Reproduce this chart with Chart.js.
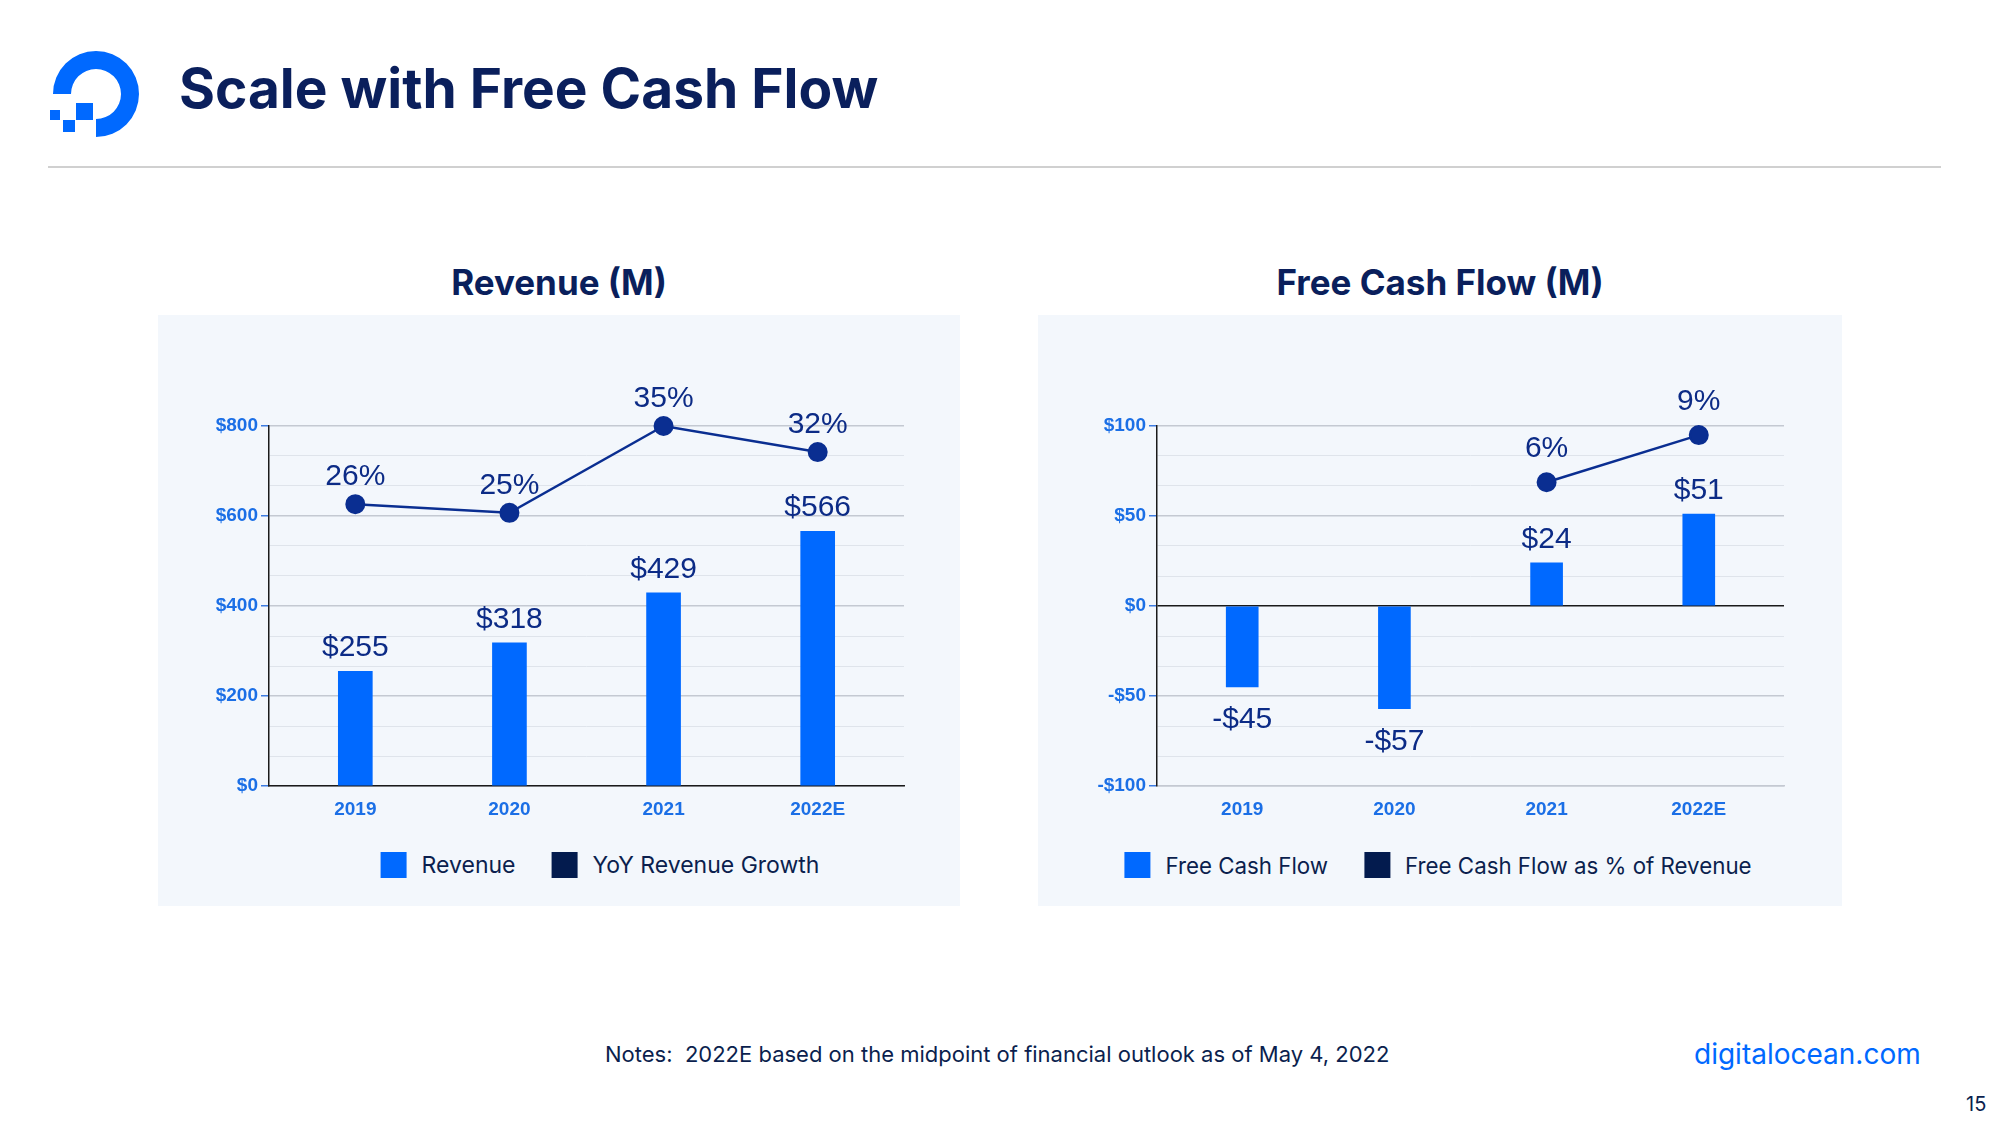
<!DOCTYPE html>
<html>
<head>
<meta charset="utf-8">
<script src="https://cdn.jsdelivr.net/npm/chart.js@4.4.0/dist/chart.umd.min.js"></script>
<style>
  body { margin: 0; width: 2000px; height: 1125px; background: #fff; position: relative; overflow: hidden; font-family: Inter, "Noto Sans", sans-serif; }
  .abs { position: absolute; }
  #title { left: 179px; top: 61px; font-size: 55px; line-height: 55px; font-weight: 700; color: #0a1f5c; white-space: nowrap; }
  #rule { left: 48px; top: 166px; width: 1893px; height: 2px; background: #d0d0d0; }
  .panel { top: 315px; height: 591px; background: #f3f7fc; }
  .ptitle { top: 262px; font-size: 35px; line-height: 40px; font-weight: 700; color: #0a1f5c; text-align: center; white-space: nowrap; }
  .legend { top: 850px; height: 30px; display: flex; align-items: center; font-size: 23px; color: #0b1f4e; white-space: nowrap; transform: translateX(-50%); }
  .legend span.box { width: 26px; height: 26px; margin-right: 15px; display: inline-block; }
  .legend span.item { display: flex; align-items: center; margin-right: 36px; }
  .legend span.item:last-child { margin-right: 0; }
  #note { left: 605px; top: 1040px; font-size: 22px; line-height: 28px; color: #0b1f4e; white-space: pre; }
  #site { left: 1694px; top: 1037px; font-size: 28px; line-height: 34px; color: #0069ff; }
  #page { left: 1966px; top: 1091px; font-size: 20px; line-height: 26px; color: #0b1f4e; }
  canvas { position: absolute; }
</style>
</head>
<body>
<svg class="abs" style="left:0;top:0" width="160" height="160">
  <path d="M53 94 A43 43 0 1 1 96 137 L96 119 A25 25 0 1 0 71 94 Z" fill="#0069ff"/>
  <rect x="76" y="103" width="17" height="17" fill="#0069ff"/>
  <rect x="63" y="120" width="12" height="12" fill="#0069ff"/>
  <rect x="50" y="110" width="10" height="10" fill="#0069ff"/>
</svg>
<div id="title" class="abs">Scale with Free Cash Flow</div>
<div id="rule" class="abs"></div>

<div class="abs panel" style="left:158px;width:802px"></div>
<div class="abs panel" style="left:1038px;width:804px"></div>
<div class="abs ptitle" style="left:158px;width:802px">Revenue (M)</div>
<div class="abs ptitle" style="left:1038px;width:804px">Free Cash Flow (M)</div>

<canvas id="revChart" width="802" height="520" style="left:158px;top:315px"></canvas>
<canvas id="fcfChart" width="804" height="520" style="left:1038px;top:315px"></canvas>

<div id="revLegend" class="abs legend" style="left:600px"></div>
<div id="fcfLegend" class="abs legend" style="left:1438px;font-size:22.3px"></div>

<div id="note" class="abs">Notes:  2022E based on the midpoint of financial outlook as of May 4, 2022</div>
<div id="site" class="abs">digitalocean.com</div>
<div id="page" class="abs">15</div>

<script>
// data
const years = ['2019', '2020', '2021', '2022E'];
const revenue = [255, 318, 429, 566];
const revenueGrowth = [26, 25, 35, 32];
const fcf = [-45, -57, 24, 51];
const fcfMargin = [null, null, 6, 9];
const revAxis = [0, 800];
const fcfAxis = [-100, 100];

const BLUE = '#0069ff';
const NAVY = '#031b4e';
const LINE = '#0a2e91';
const LABEL = '#0c2b86';
const TICK = '#1b6fe6';

function money(v) {
    return (v < 0 ? '-' : '') + '$' + Math.abs(Math.round(v));
}

// draws value labels above bars / points
const valueLabels = {
    id: 'valueLabels',
    afterDatasetsDraw(chart, args, opts) {
        const ctx = chart.ctx;
        ctx.save();
        ctx.font = '30px "Liberation Sans", Arial, sans-serif';
        ctx.fillStyle = LABEL;
        ctx.textAlign = 'center';
        ctx.textBaseline = 'alphabetic';
        chart.data.datasets.forEach((ds, di) => {
            const meta = chart.getDatasetMeta(di);
            meta.data.forEach((el, i) => {
                const v = ds.data[i];
                if (v === null || v === undefined) return;
                if (ds.type === 'line') {
                    ctx.fillText(v + '%', el.x, el.y - opts.lineGap);
                } else if (v >= 0) {
                    ctx.fillText(money(v), el.x, el.y - 15);
                } else {
                    ctx.fillText(money(v), el.x, el.y + 41);
                }
            });
        });
        ctx.restore();
    }
};

function isMajor(v, step) {
    return Math.abs(v / step - Math.round(v / step)) < 1e-6;
}

function makeChart(id, cfg) {
    const major = (cfg.range[1] - cfg.range[0]) / 4;
    return new Chart(document.getElementById(id), {
        type: 'bar',
        data: {
            labels: years,
            datasets: [{
                type: 'line',
                label: cfg.lineLabel,
                data: cfg.lineData,
                yAxisID: 'y2',
                borderColor: LINE,
                borderWidth: 2.5,
                pointRadius: 9,
                pointBorderWidth: 2,
                pointBackgroundColor: LINE,
                pointBorderColor: LINE,
                clip: false,
                order: 0
            }, {
                label: cfg.barLabel,
                data: cfg.barData,
                backgroundColor: BLUE,
                barThickness: cfg.barWidth,
                order: 1
            }]
        },
        options: {
            responsive: false,
            animation: false,
            devicePixelRatio: 1,
            layout: { padding: { top: 111, right: cfg.padRight, left: 0, bottom: 0 } },
            plugins: {
                legend: { display: false },
                tooltip: { enabled: false },
                valueLabels: { lineGap: cfg.lineGap }
            },
            scales: {
                x: {
                    grid: { display: false, drawTicks: false },
                    border: { display: true, color: cfg.xBorder, width: 1.5 },
                    ticks: {
                        padding: 12,
                        color: TICK,
                        font: { family: '"Liberation Sans", Arial, sans-serif', size: 19, weight: 'bold' }
                    },
                    // categories sit a bit closer together than the default offset gives
                    afterBuildTicks: s => { s._startValue = -0.56; s._valueRange = 4.12; },
                    afterFit: s => { s.height = 49; }
                },
                y: {
                    min: cfg.range[0],
                    max: cfg.range[1],
                    ticks: {
                        stepSize: major / 3,
                        maxTicksLimit: 30,
                        autoSkip: false,
                        padding: 3,
                        color: TICK,
                        font: { family: '"Liberation Sans", Arial, sans-serif', size: 19, weight: 'bold' },
                        callback: v => isMajor(v, major) ? money(v) : ''
                    },
                    grid: {
                        tickLength: 8,
                        color: c => {
                            const v = c.tick.value;
                            if (Math.abs(v) < 1e-6 && cfg.range[0] < 0) return '#1a1a1a';
                            return isMajor(v, major) ? '#c4c9d2' : '#dfe4eb';
                        },
                        lineWidth: c => isMajor(c.tick.value, major) ? 1.5 : 1,
                        tickColor: c => isMajor(c.tick.value, major) ? '#3d7be0' : 'rgba(0,0,0,0)'
                    },
                    border: { color: '#1a1a1a', width: 1.5 },
                    afterFit: s => { s.width = cfg.axisWidth; }
                },
                y2: {
                    display: false,
                    min: cfg.lineRange[0],
                    max: cfg.lineRange[1]
                }
            }
        },
        plugins: [valueLabels]
    });
}

function legend(id, items) {
    const el = document.getElementById(id);
    items.forEach(it => {
        const s = document.createElement('span');
        s.className = 'item';
        s.innerHTML = '<span class="box" style="background:' + it.color + '"></span>' + it.text;
        el.appendChild(s);
    });
}

makeChart('revChart', {
    barData: revenue, barLabel: 'Revenue',
    lineData: revenueGrowth, lineLabel: 'YoY Revenue Growth',
    range: revAxis, lineRange: [-6.45, 35],
    barWidth: 34, padRight: 56, axisWidth: 111, lineGap: 19, xBorder: '#1a1a1a'
});
makeChart('fcfChart', {
    barData: fcf, barLabel: 'Free Cash Flow',
    lineData: fcfMargin, lineLabel: 'Free Cash Flow as % of Revenue',
    range: fcfAxis, lineRange: [-13.33, 9.58],
    barWidth: 32, padRight: 58, axisWidth: 119, lineGap: 25, xBorder: '#c4c9d2'
});

legend('revLegend', [{ color: BLUE, text: 'Revenue' }, { color: NAVY, text: 'YoY Revenue Growth' }]);
legend('fcfLegend', [{ color: BLUE, text: 'Free Cash Flow' }, { color: NAVY, text: 'Free Cash Flow as % of Revenue' }]);
</script>
</body>
</html>
